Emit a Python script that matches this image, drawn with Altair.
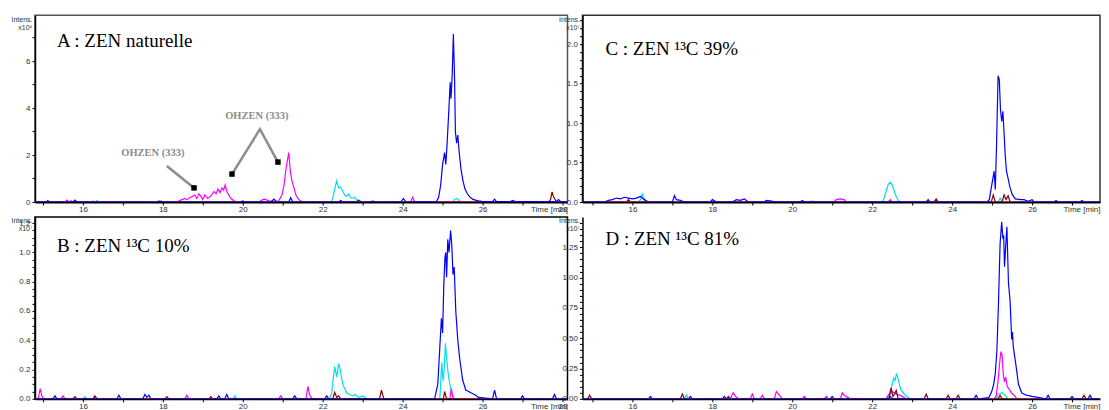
import altair as alt
import pandas as pd

# ---------------- data (time in min, intensity in axis units) ----------------
# Panel A : intensities x10^6
A_blue = [(14.8,0),(15.08,0),(15.12,0.06),(15.16,0),(15.75,0),(15.8,0.08),(15.85,0),(17.9,0),(17.95,0.04),(18.0,0),
          (19.95,0),(20.0,0.05),(20.05,0),(20.7,0),(20.78,0.12),(20.85,0),(21.15,0),(21.2,0.18),(21.25,0),(22.4,0),
          (22.45,0.06),(22.5,0),(23.95,0),(24.02,0.15),(24.08,0),(24.85,0.02),(24.9,0.2),(24.95,0.7),(25.0,1.6),
          (25.05,2.1),(25.08,1.6),(25.11,2.4),(25.15,3.7),(25.19,5.1),(25.21,4.4),(25.24,5.4),(25.27,7.15),(25.3,5.2),
          (25.32,3.0),(25.35,2.5),(25.38,2.85),(25.41,2.2),(25.46,1.4),(25.51,0.9),(25.56,0.55),(25.62,0.35),
          (25.68,0.22),(25.75,0.12),(25.82,0.08),(25.9,0.05),(26.0,0.02),(26.25,0.02),(26.3,0.12),(26.35,0.02),
          (26.7,0.02),(26.75,0.07),(26.8,0.02),(27.85,0.02),(27.9,0.1),(27.95,0.02),(28.12,0)]
A_cyan = [(14.8,0),(16.3,0),(16.35,0.06),(16.4,0),(22.2,0),(22.25,0.15),(22.3,0.55),(22.35,0.9),(22.4,0.6),
          (22.45,0.62),(22.5,0.47),(22.55,0.3),(22.6,0.25),(22.65,0.34),(22.7,0.18),(22.75,0.17),(22.8,0.2),
          (22.85,0.08),(22.95,0.04),(23.05,0),(25.25,0),(25.3,0.12),(25.35,0.15),(25.4,0.1),(25.45,0),(28.12,0)]
A_magenta = [(14.8,0),(15.55,0),(15.6,0.08),(15.65,0),(16.2,0),(16.25,0.04),(16.3,0),(18.35,0),(18.45,0.08),
             (18.55,0.15),(18.6,0.1),(18.7,0.2),(18.8,0.3),(18.85,0.15),(18.9,0.35),(18.95,0.25),(19.0,0.1),
             (19.05,0.3),(19.12,0.15),(19.2,0.25),(19.28,0.45),(19.33,0.35),(19.38,0.55),(19.43,0.4),(19.48,0.6),
             (19.52,0.5),(19.56,0.72),(19.6,0.45),(19.65,0.3),(19.7,0.15),(19.78,0.05),(19.85,0),(20.4,0),
             (20.5,0.1),(20.55,0.12),(20.65,0.05),(20.8,0),(20.9,0.05),(20.98,0.3),(21.03,0.7),(21.08,1.4),
             (21.15,2.1),(21.19,1.3),(21.23,0.9),(21.28,0.6),(21.33,0.3),(21.4,0.1),(21.5,0),(24.2,0),(24.25,0.2),
             (24.3,0),(28.12,0)]
A_darkred = [(14.8,0),(15.65,0),(15.7,0.05),(15.75,0),(17.85,0),(17.9,0.05),(17.95,0),(22.85,0),(22.9,0.08),
             (22.95,0),(23.2,0),(23.25,0.05),(23.3,0),(26.75,0),(26.8,0.04),(26.85,0),(27.65,0),(27.7,0.1),
             (27.74,0.43),(27.78,0.2),(27.86,0),(28.12,0)]
A_ann_text = [("OHZEN (333)", 17.75, 2.09), ("OHZEN (333)", 20.35, 3.66)]
A_arrow_1 = [(18.1, 1.53), (18.78, 0.6)]
A_arrow_2 = [(19.73, 1.19), (20.43, 3.1), (20.88, 1.7)]
A_arrow_heads = [(18.78, 0.6), (19.73, 1.19), (20.88, 1.7)]

# Panel B : intensities x10^7
B_blue = [(14.8,0),(15.25,0),(15.3,0.02),(15.35,0),(16.85,0),(16.9,0.025),(16.95,0),(17.5,0),(17.55,0.03),
          (17.6,0.01),(17.65,0.025),(17.7,0),(19.35,0),(19.4,0.02),(19.45,0),(19.55,0),(19.6,0.03),(19.65,0),
          (21.25,0),(21.3,0.02),(21.35,0),(22.05,0),(22.1,0.02),(22.15,0),(24.8,0),(24.88,0.1),(24.93,0.35),
          (24.97,0.55),(25.0,0.45),(25.03,0.78),(25.06,0.97),(25.08,1.0),(25.1,0.83),(25.13,1.09),(25.16,1.0),
          (25.2,1.15),(25.23,1.05),(25.26,0.85),(25.29,0.9),(25.33,0.6),(25.38,0.4),(25.43,0.27),(25.5,0.13),
          (25.58,0.06),(25.65,0.05),(25.72,0.04),(25.8,0.03),(25.9,0.01),(26.25,0),(26.3,0.06),(26.35,0),
          (26.95,0),(27.0,0.02),(27.05,0),(27.75,0),(27.8,0.03),(27.85,0),(28.12,0)]
B_cyan = [(14.8,0),(16.0,0),(16.05,0.015),(16.1,0),(19.75,0),(19.8,0.02),(19.85,0),(22.15,0),(22.22,0.03),
          (22.27,0.15),(22.3,0.22),(22.35,0.15),(22.4,0.24),(22.44,0.2),(22.5,0.1),(22.55,0.07),(22.6,0.04),
          (22.67,0.03),(22.75,0.02),(22.82,0.03),(22.9,0.01),(23.0,0.02),(23.1,0),(24.93,0),(24.98,0.25),
          (25.01,0.12),(25.04,0.2),(25.07,0.38),(25.1,0.28),(25.14,0.17),(25.18,0.1),(25.23,0.04),(25.3,0),
          (28.12,0)]
B_magenta = [(14.8,0),(14.88,0),(14.93,0.07),(14.97,0.02),(15.02,0),(15.45,0),(15.5,0.02),(15.55,0),(16.25,0),
             (16.3,0.01),(16.35,0),(18.55,0),(18.6,0.025),(18.65,0),(20.9,0),(20.95,0.02),(21.0,0),(21.58,0),
             (21.63,0.085),(21.68,0.02),(21.75,0),(25.18,0),(25.22,0.07),(25.26,0),(28.12,0)]
B_darkred = [(14.8,0),(15.75,0),(15.8,0.015),(15.85,0),(16.25,0),(16.3,0.02),(16.35,0),(18.05,0),(18.1,0.015),
             (18.15,0),(19.15,0),(19.2,0.015),(19.25,0),(22.25,0),(22.3,0.045),(22.35,0.01),(22.4,0.02),
             (22.45,0),(23.42,0),(23.47,0.06),(23.53,0),(25.02,0),(25.05,0.05),(25.1,0),(28.12,0)]

# Panel C : intensities x10^7
C_blue = [(14.75,0),(15.3,0),(15.4,0.02),(15.5,0.03),(15.6,0.05),(15.7,0.04),(15.8,0.06),(15.9,0.05),(16.0,0.04),
          (16.1,0.05),(16.2,0.07),(16.3,0.03),(16.4,0),(17.0,0),(17.05,0.08),(17.1,0.03),(17.2,0.02),(17.3,0),
          (17.95,0),(18.0,0.03),(18.1,0),(18.5,0),(18.6,0.03),(18.7,0.02),(18.8,0.04),(18.9,0),(19.3,0),
          (19.35,0.02),(19.5,0.01),(19.6,0),(20.2,0),(20.25,0.02),(20.3,0),(23.35,0),(23.4,0.03),(23.45,0),
          (24.88,0),(24.93,0.03),(24.97,0.15),(25.02,0.3),(25.05,0.39),(25.08,0.16),(25.11,0.7),(25.15,1.6),
          (25.18,1.55),(25.21,1.17),(25.24,1.02),(25.27,1.15),(25.3,0.87),(25.33,0.58),(25.36,0.39),(25.4,0.3),
          (25.44,0.2),(25.5,0.1),(25.58,0.04),(25.7,0.03),(25.8,0.03),(25.9,0.01),(26.0,0.03),(26.05,0),
          (26.55,0),(26.6,0.02),(26.65,0),(27.2,0),(27.25,0.02),(27.3,0),(27.9,0)]
C_cyan = [(14.75,0),(16.15,0),(16.2,0.03),(16.25,0.1),(16.3,0.03),(16.35,0),(22.25,0),(22.3,0.05),(22.35,0.14),
          (22.4,0.22),(22.45,0.25),(22.5,0.22),(22.55,0.14),(22.6,0.07),(22.65,0.02),(22.72,0),(25.15,0),
          (25.2,0.05),(25.25,0),(27.9,0)]
C_magenta = [(14.75,0),(19.4,0),(19.45,0.015),(19.5,0),(20.45,0),(20.5,0.01),(20.55,0),(21.05,0),(21.1,0.03),
             (21.2,0.04),(21.3,0.03),(21.35,0),(22.4,0),(22.45,0.03),(22.5,0),(27.9,0)]
C_darkred = [(14.75,0),(15.85,0),(15.9,0.03),(15.95,0),(23.55,0),(23.6,0.04),(23.65,0),(24.98,0),(25.03,0.09),
             (25.08,0),(25.25,0),(25.3,0.09),(25.35,0.03),(25.4,0.08),(25.45,0),(27.9,0)]

# Panel D : intensities x10^7
D_blue = [(14.75,0),(16.4,0),(16.45,0.02),(16.5,0),(17.4,0),(17.45,0.02),(17.5,0),(18.25,0),(18.3,0.02),
          (18.35,0),(20.95,0),(21.0,0.02),(21.05,0),(22.4,0),(22.45,0.02),(22.5,0),(24.55,0),(24.6,0.03),
          (24.65,0),(24.92,0.01),(24.99,0.06),(25.04,0.12),(25.08,0.21),(25.12,0.4),(25.16,0.79),(25.2,1.28),
          (25.24,1.46),(25.27,1.32),(25.29,1.35),(25.31,1.09),(25.37,1.42),(25.41,0.95),(25.45,0.81),
          (25.49,0.49),(25.51,0.55),(25.53,0.43),(25.6,0.27),(25.66,0.12),(25.74,0.05),(25.85,0.03),(26.0,0.02),
          (26.35,0),(26.4,0.03),(26.45,0),(26.95,0),(27.0,0.02),(27.05,0),(27.4,0),(27.45,0.03),(27.5,0),(27.9,0)]
D_cyan = [(14.75,0),(17.3,0),(17.35,0.03),(17.4,0),(22.35,0),(22.4,0.02),(22.45,0.06),(22.5,0.12),(22.54,0.17),
          (22.57,0.15),(22.61,0.21),(22.66,0.15),(22.71,0.08),(22.8,0.04),(22.9,0.01),(22.95,0),(25.1,0),
          (25.15,0.04),(25.25,0.05),(25.35,0.02),(25.4,0),(27.9,0)]
D_magenta = [(14.75,0),(18.45,0),(18.52,0.05),(18.58,0.02),(18.65,0),(18.95,0),(19.0,0.04),(19.05,0),(19.2,0),
             (19.25,0.03),(19.3,0),(19.55,0),(19.6,0.06),(19.7,0.02),(19.75,0),(20.25,0),(20.3,0.02),(20.35,0),
             (20.8,0),(20.85,0.02),(20.9,0),(21.2,0),(21.25,0.05),(21.3,0.03),(21.4,0.01),(21.45,0),(22.35,0),
             (22.4,0.03),(22.5,0.06),(22.6,0.04),(22.75,0.02),(22.85,0),(25.05,0),(25.1,0.02),(25.15,0.15),
             (25.19,0.3),(25.22,0.39),(25.25,0.36),(25.28,0.2),(25.31,0.14),(25.34,0.18),(25.38,0.1),(25.43,0.08),
             (25.48,0.05),(25.55,0.03),(25.62,0),(27.9,0)]
D_darkred = [(14.75,0),(14.88,0),(14.93,0.03),(14.98,0),(17.2,0),(17.25,0.04),(17.3,0),(18.35,0),(18.4,0.02),
             (18.45,0),(22.42,0),(22.47,0.09),(22.52,0.02),(22.56,0.04),(22.6,0.07),(22.65,0),(23.3,0),
             (23.35,0.04),(23.4,0),(23.85,0),(23.9,0.03),(23.95,0),(24.1,0),(24.15,0.03),(24.2,0),(25.15,0),
             (25.2,0.03),(25.25,0),(27.25,0),(27.3,0.03),(27.35,0),(27.9,0)]

PANEL_TITLES = {"A": "A : ZEN naturelle", "B": "B : ZEN \u00b9\u00b3C 10%",
                "C": "C : ZEN \u00b9\u00b3C 39%", "D": "D : ZEN \u00b9\u00b3C 81%"}
Y_TITLES = {"A": ["Intens.", "x10\u2076"], "B": ["Intens.", "x10\u2077"],
            "C": ["Intens.", "x10\u2077"], "D": ["Intens.", "x10\u2077"]}

# ---------------- styling ----------------
BLUE, CYAN, MAGENTA, DARKRED = "#0000ff", "#00e0ea", "#ff00ff", "#8b0000"
SANS = "Liberation Sans"
SERIF = "Liberation Serif"


def to_df(pairs):
    return pd.DataFrame(pairs, columns=["t", "v"])


def make_panel(key, series, xdom, xticks, ydom, yticks, ylab_expr, width, height,
               title_dx, title_dy, frame_color, extra=None):
    x = alt.X("t:Q", scale=alt.Scale(domain=xdom, nice=False, zero=False),
              axis=alt.Axis(values=xticks, labelExpr="datum.value % 2 == 0 ? datum.label : ''",
                            grid=False, tickSize=3, tickColor="black", tickWidth=1,
                            domainColor="black", domainWidth=2, labelFont=SANS, labelFontSize=8,
                            labelColor="#333", labelPadding=1, labelFlush=False,
                            title="Time [min]", titleFont=SANS, titleFontSize=8,
                            titleFontWeight="normal", titleColor="#333", titleAlign="right",
                            titleBaseline="top", titleX=width, titleY=4))
    y = alt.Y("v:Q", scale=alt.Scale(domain=ydom, nice=False, zero=False),
              axis=alt.Axis(values=yticks, labelExpr=ylab_expr, grid=False, tickSize=3,
                            tickColor="black", domainColor="black", domainWidth=1.5,
                            labelFont=SANS, labelFontSize=8, labelColor="#333", labelPadding=2,
                            labelFlush=False,
                            title=Y_TITLES[key], titleFont=SANS, titleFontSize=7,
                            titleFontWeight="normal", titleColor="#333", titleAngle=0,
                            titleAlign="right", titleBaseline="top", titleX=-3, titleY=0,
                            titleLineHeight=8))
    layers = []
    for pairs, col in series:
        layers.append(alt.Chart(to_df(pairs)).mark_line(color=col, strokeWidth=1.2, clip=True)
                      .encode(x=x, y=y))
    if extra is not None:
        layers += extra(x, y)
    view = (alt.ViewBackground(stroke=frame_color, strokeWidth=1.5) if frame_color
            else alt.ViewBackground(strokeOpacity=0))
    return alt.layer(*layers).properties(
        width=width, height=height, view=view,
        title=alt.TitleParams(PANEL_TITLES[key], anchor="start", frame="group", font=SERIF,
                              fontSize=19, fontWeight="normal", color="black",
                              baseline="alphabetic", offset=0, dx=title_dx, dy=title_dy))


def a_annotations(x, y):
    txt = pd.DataFrame(A_ann_text, columns=["label", "t", "v"])
    arr = pd.concat([to_df(A_arrow_1).assign(k=1), to_df(A_arrow_2).assign(k=2)])
    heads = to_df(A_arrow_heads)
    return [
        alt.Chart(arr).mark_line(color="#8c8c8c", strokeWidth=2.5).encode(x=x, y=y, detail="k:N",
                                                                          order=alt.Order("t:Q")),
        alt.Chart(heads).mark_point(shape="square", filled=True, color="black", size=30, opacity=1)
        .encode(x=x, y=y),
        alt.Chart(txt).mark_text(font=SERIF, fontSize=10.5, color="#8a8a8a", fontWeight="bold")
        .encode(x=x, y=y, text="label:N"),
    ]


W_AB, W_CD = 533, 518
H_TOP, H_BOT = 187, 182
X_AB = [14.8, 14.8 + W_AB / 40]
X_CD = [14.75, 14.75 + W_CD / 40]
XT_AB = list(range(15, 29))
XT_CD = list(range(15, 28))

yt_A = list(range(0, 8))
yt_B = [round(i * 0.05, 2) for i in range(0, 25)]
yt_C = [round(i * 0.1, 1) for i in range(0, 24)]
yt_D = [round(i * 0.05, 2) for i in range(0, 30)]

panelA = make_panel("A", [(A_cyan, CYAN), (A_magenta, MAGENTA), (A_darkred, DARKRED), (A_blue, BLUE)],
                    X_AB, XT_AB, [0, 7.95], yt_A, "datum.value % 2 == 0 ? format(datum.value, 'd') : ''",
                    W_AB, H_TOP, 22, 51, "#555555", extra=a_annotations)
panelB = make_panel("B", [(B_cyan, CYAN), (B_magenta, MAGENTA), (B_darkred, DARKRED), (B_blue, BLUE)],
                    X_AB, XT_AB, [0, 1.242], yt_B,
                    "abs(datum.value*5 - round(datum.value*5)) < 1e-6 ? format(datum.value, '.1f') : ''",
                    W_AB, H_BOT, 22, 54, "black")
panelC = make_panel("C", [(C_cyan, CYAN), (C_magenta, MAGENTA), (C_darkred, DARKRED), (C_blue, BLUE)],
                    X_CD, XT_CD, [0, 2.367], yt_C,
                    "abs(datum.value*2 - round(datum.value*2)) < 1e-6 ? format(datum.value, '.1f') : ''",
                    W_CD, H_TOP, 23, 59, "#333333")
panelD = make_panel("D", [(D_cyan, CYAN), (D_magenta, MAGENTA), (D_darkred, DARKRED), (D_blue, BLUE)],
                    X_CD, XT_CD, [0, 1.5], yt_D,
                    "abs(datum.value*4 - round(datum.value*4)) < 1e-6 ? format(datum.value, '.2f') : ''",
                    W_CD, H_BOT, 23, 47, None)

chart = alt.concat(panelA, panelC, panelB, panelD, columns=2, spacing=15, bounds="flush").properties(
    padding={"left": 2, "top": 6, "right": 0, "bottom": 0}
).configure(background="white")

chart.save("out.html", embed_options={"renderer": "svg", "actions": False})
